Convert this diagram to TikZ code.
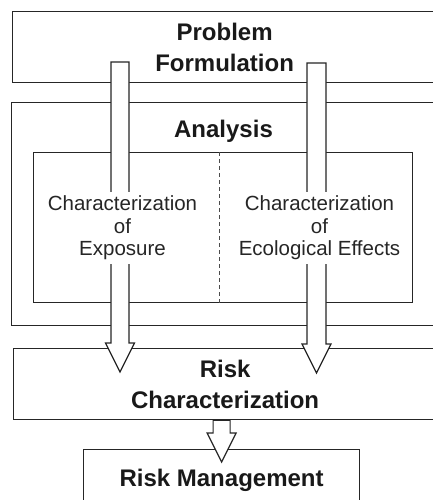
\documentclass[tikz,border=0pt]{standalone}
\usepackage{fontspec}
\setmainfont{Liberation Sans}
\usetikzlibrary{calc}

% Hollow block arrow pointing down from #1 to #2, shaft half width #3
\newcommand{\flowarrow}[3]{%
  \draw[flow] ($(#1)+(-#3,0)$) -- ($(#2)+(-#3,-29)$) -- ($(#2)+(-14.5,-29)$)
    -- (#2) -- ($(#2)+(14.5,-29)$) -- ($(#2)+(#3,-29)$) -- ($(#1)+(#3,0)$) -- cycle;
}

\begin{document}
\begin{tikzpicture}[x=1pt, y=-1pt,
    box/.style={draw=black!85, line width=1.2pt, rectangle, inner sep=0pt, anchor=north west, align=center},
    heading/.style={font=\bfseries\fontsize{24}{31}\selectfont, text=black!90},
    detail/.style={font=\fontsize{20.5}{22.5}\selectfont, align=center, fill=white, inner sep=4pt, text=black!85},
    flow/.style={draw=black!85, line width=1.2pt, fill=white, line join=miter}]

  % Fix the page to the size of the reference
  \useasboundingbox (0,0) rectangle (433,500);
  \clip (0,0) rectangle (433,500);

  % Stages of the assessment
  \node[box, heading, minimum width=424pt, minimum height=71pt] (problem) at (12,11) {Problem\\Formulation};
  \node[box, minimum width=425pt, minimum height=223pt] (analysis) at (11,102) {};
  \node[heading, anchor=base] (analysis title) at (223.5,137) {Analysis};
  \node[box, minimum width=379pt, minimum height=150pt] (inner) at (33,152) {};
  \node[box, heading, minimum width=423pt, minimum height=71pt] (risk) at (13,348) {Risk\\Characterization};
  \node[box, heading, minimum width=276pt, minimum height=62pt] (management) at (83,449) {Risk Management};

  % Divider between the two characterizations
  \draw[black!70, line width=0.8pt, dash pattern=on 4pt off 3pt]
    ([xshift=-3.5pt]inner.north) -- ([xshift=-3.5pt]inner.south);

  % Ends of the arrows
  \coordinate (exposure top) at (120,62);
  \coordinate (exposure tip) at (120,372);
  \coordinate (effects top) at (316.5,63);
  \coordinate (effects tip) at (316.5,373);
  \coordinate (management top) at (risk.south -| management.north);
  \coordinate (management tip) at ([yshift=-13pt]management.north);

  \flowarrow{exposure top}{exposure tip}{9}
  \flowarrow{effects top}{effects tip}{9.5}
  \flowarrow{management top}{management tip}{8.5}

  % Texts of the analysis, laid over the arrows
  \node[detail] (exposure) at (122.5,228) {Characterization\\of\\Exposure};
  \node[detail] (effects) at (319.5,228) {Characterization\\of\\Ecological Effects};
\end{tikzpicture}
\end{document}
